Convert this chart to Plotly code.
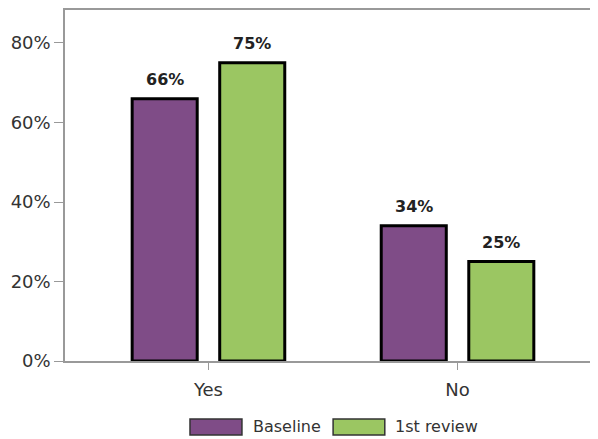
import plotly.graph_objects as go

categories = ["Yes", "No"]
baseline = [0.66, 0.34]
first_review = [0.75, 0.25]
series_names = ["Baseline", "1st review"]
tick_vals = [0, 0.2, 0.4, 0.6, 0.8]
tick_text = ["0%", "20%", "40%", "60%", "80%"]

purple = "#7F4C87"
green = "#9BC662"
FONT = "DejaVu Sans, sans-serif"

BARGAP = 0.297
BARGROUPGAP = 0.257

fig = go.Figure()
for name, vals, col in [(series_names[0], baseline, purple), (series_names[1], first_review, green)]:
    fig.add_trace(go.Bar(
        x=list(range(len(categories))), y=vals, name=name,
        marker=dict(color=col, line=dict(color="black", width=3)),
        showlegend=False,
    ))

# value labels above bars
slot = (1 - BARGAP) / 2
for j, vals in enumerate([baseline, first_review]):
    off = (j - 0.5) * slot
    for i, v in enumerate(vals):
        fig.add_annotation(x=i + off, y=v, xref="x", yref="y",
                           text=f"<b>{round(v*100)}%</b>", showarrow=False,
                           yanchor="bottom", yshift=8,
                           font=dict(family=FONT, size=16, color="#222"))

fig.update_layout(
    width=590, height=431,
    margin=dict(l=57, r=0, t=2, b=78),
    plot_bgcolor="white", paper_bgcolor="white",
    barmode="group", bargap=BARGAP, bargroupgap=BARGROUPGAP,
    font=dict(family=FONT, size=18, color="#333"),
)
fig.update_xaxes(
    range=[-0.576, 1.564],
    tickvals=list(range(len(categories))), ticktext=categories,
    showline=True, linecolor="#999", linewidth=1.5, mirror=True,
    ticks="outside", ticklen=7, tickcolor="#999", tickwidth=1,
    ticklabelstandoff=5,
    showgrid=False, tickfont=dict(size=18, color="#333"),
)
fig.update_yaxes(
    range=[0, 0.883],
    tickvals=tick_vals, ticktext=tick_text,
    showline=True, linecolor="#999", linewidth=1.5,
    ticks="outside", ticklen=9, tickcolor="#999", tickwidth=1,
    showgrid=False, zeroline=False, tickfont=dict(size=18, color="#333"),
)

# manual legend with wide swatches
legend_items = [
    (series_names[0], purple, 0.2345, 0.332, 0.349),
    (series_names[1], green, 0.503, 0.600, 0.615),
]
for name, col, x0, x1, tx in legend_items:
    fig.add_shape(type="rect", xref="paper", yref="paper",
                  x0=x0, x1=x1, y0=-0.211, y1=-0.165,
                  fillcolor=col, line=dict(color="#333", width=1.5))
    fig.add_annotation(x=tx, y=-0.188, xref="paper", yref="paper",
                       text=name, showarrow=False, xanchor="left", yanchor="middle",
                       font=dict(family=FONT, size=16, color="#333"))

fig.write_html("out.html")
